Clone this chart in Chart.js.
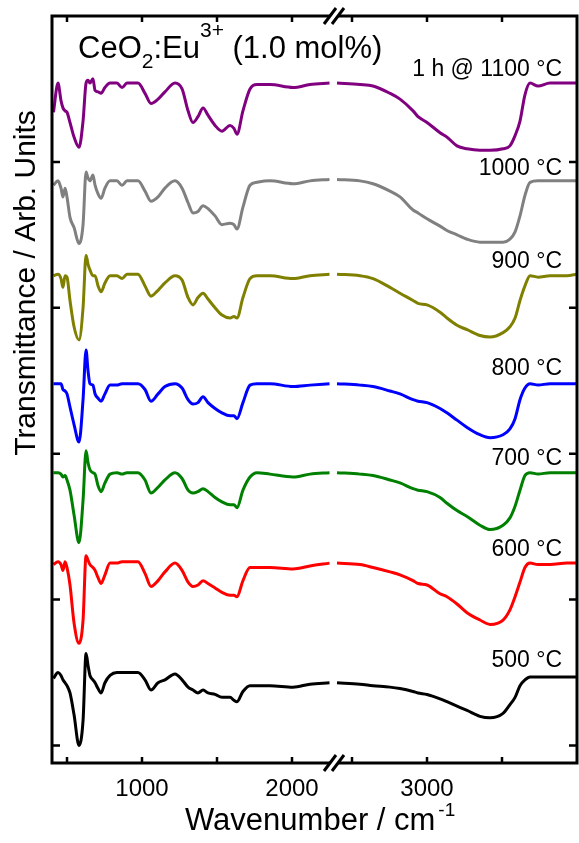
<!DOCTYPE html>
<html lang="en">
<head>
<meta charset="UTF-8">
<title>CeO2:Eu3+ FTIR</title>
<script src="https://cdn.jsdelivr.net/npm/chart.js"></script>
<style>
    html, body { margin: 0; padding: 0; background: #fff; }
    #chart { display: block; }
</style>
</head>
<body>
<canvas id="chart" width="579" height="843"></canvas>
<script>
// wavenumbers (cm-1) on each side of the axis break
const wnLow = [410, 440, 460, 473, 487, 500, 520, 547, 580, 607, 627, 640, 653, 673, 687, 707, 727, 753, 787, 833,
    867, 900, 973, 1020, 1060, 1107, 1153, 1220, 1267, 1307, 1340, 1373, 1407, 1440, 1487, 1533, 1587, 1613, 1633,
    1673, 1720, 1767, 1853, 2007, 2120, 2250];
const wnHigh = [2400, 2553, 2640, 2753, 2820, 2907, 2940, 3000, 3087, 3133, 3200, 3267, 3353, 3420, 3507, 3553,
    3587, 3620, 3653, 3687, 3740, 3820, 3933, 4000];
const BREAK_SHIFT = 100;   // the cut region is 100 cm-1 wide
const xTickWn = [500, 1000, 1500, 2000, 2500, 3000, 3500];
const xLabelWn = [1000, 2000, 3000];
const yTicks = [0, 1, 2, 3, 4];

const labels = ["500 °C", "600 °C", "700 °C", "800 °C", "900 °C", "1000 °C", "1 h @ 1100 °C"];
const colors = ["#000000", "#ff0000", "#008000", "#0000ff", "#808000", "#808080", "#800080"];

// transmittance, arb. units (curves are stacked)
const t500Low = [0.46, 0.50, 0.48, 0.45, 0.43, 0.41, 0.36, 0.21, 0.00, 0.17, 0.63, 0.55, 0.48, 0.45, 0.43, 0.39, 0.36,
    0.43, 0.48, 0.50, 0.50, 0.50, 0.50, 0.45, 0.38, 0.43, 0.45, 0.49, 0.45, 0.40, 0.38, 0.36, 0.38, 0.36, 0.35, 0.33,
    0.33, 0.31, 0.30, 0.37, 0.41, 0.41, 0.41, 0.40, 0.42, 0.43];
const t500High = [0.43, 0.42, 0.41, 0.40, 0.39, 0.37, 0.36, 0.35, 0.32, 0.30, 0.27, 0.24, 0.20, 0.19, 0.22, 0.28, 0.33,
    0.41, 0.45, 0.47, 0.47, 0.47, 0.47, 0.47];
const t600Low = [1.24, 1.26, 1.24, 1.20, 1.26, 1.22, 1.10, 0.84, 0.70, 0.86, 1.30, 1.27, 1.24, 1.22, 1.20, 1.15, 1.11,
    1.17, 1.25, 1.25, 1.26, 1.26, 1.26, 1.18, 1.09, 1.13, 1.19, 1.25, 1.20, 1.12, 1.09, 1.10, 1.13, 1.11, 1.08, 1.05,
    1.03, 1.03, 1.02, 1.13, 1.22, 1.22, 1.22, 1.21, 1.23, 1.25];
const t600High = [1.25, 1.24, 1.22, 1.19, 1.17, 1.13, 1.11, 1.10, 1.04, 1.02, 0.97, 0.91, 0.86, 0.83, 0.86, 0.93, 1.02,
    1.12, 1.22, 1.25, 1.24, 1.24, 1.25, 1.25];
const t700Low = [1.87, 1.87, 1.86, 1.84, 1.85, 1.82, 1.75, 1.58, 1.39, 1.68, 2.02, 1.94, 1.89, 1.87, 1.86, 1.78, 1.74,
    1.80, 1.86, 1.87, 1.86, 1.87, 1.87, 1.82, 1.73, 1.77, 1.82, 1.87, 1.83, 1.75, 1.73, 1.74, 1.76, 1.74, 1.70, 1.67,
    1.65, 1.65, 1.63, 1.75, 1.84, 1.87, 1.86, 1.84, 1.86, 1.87];
const t700High = [1.87, 1.86, 1.85, 1.82, 1.80, 1.76, 1.75, 1.74, 1.70, 1.66, 1.61, 1.57, 1.51, 1.48, 1.51, 1.56, 1.64,
    1.75, 1.85, 1.87, 1.86, 1.87, 1.87, 1.87];
const t800Low = [2.48, 2.48, 2.48, 2.44, 2.43, 2.41, 2.32, 2.20, 2.08, 2.37, 2.71, 2.57, 2.48, 2.47, 2.41, 2.38, 2.36,
    2.41, 2.47, 2.47, 2.48, 2.48, 2.48, 2.44, 2.36, 2.41, 2.46, 2.48, 2.45, 2.37, 2.34, 2.35, 2.39, 2.35, 2.31, 2.28,
    2.26, 2.26, 2.24, 2.35, 2.47, 2.48, 2.48, 2.46, 2.47, 2.48];
const t800High = [2.48, 2.47, 2.46, 2.43, 2.41, 2.37, 2.36, 2.35, 2.31, 2.28, 2.23, 2.18, 2.13, 2.11, 2.13, 2.17, 2.24,
    2.37, 2.45, 2.48, 2.47, 2.48, 2.48, 2.48];
const t900Low = [3.22, 3.23, 3.20, 3.14, 3.22, 3.21, 3.05, 2.87, 2.78, 3.00, 3.36, 3.30, 3.26, 3.22, 3.22, 3.15, 3.11,
    3.17, 3.22, 3.22, 3.20, 3.23, 3.23, 3.15, 3.08, 3.12, 3.17, 3.22, 3.19, 3.07, 3.02, 3.07, 3.10, 3.06, 3.00, 2.95,
    2.93, 2.94, 2.93, 3.07, 3.20, 3.22, 3.22, 3.20, 3.22, 3.23];
const t900High = [3.23, 3.22, 3.20, 3.14, 3.10, 3.05, 3.03, 3.02, 2.97, 2.93, 2.88, 2.85, 2.81, 2.80, 2.83, 2.87, 2.93,
    3.05, 3.15, 3.22, 3.21, 3.22, 3.22, 3.23];
const t1000Low = [3.84, 3.87, 3.82, 3.76, 3.82, 3.76, 3.62, 3.55, 3.44, 3.57, 3.93, 3.89, 3.87, 3.91, 3.84, 3.78, 3.75,
    3.82, 3.87, 3.87, 3.84, 3.87, 3.87, 3.80, 3.73, 3.76, 3.82, 3.87, 3.82, 3.72, 3.65, 3.66, 3.70, 3.68, 3.63, 3.57,
    3.58, 3.57, 3.54, 3.69, 3.84, 3.86, 3.87, 3.85, 3.87, 3.88];
const t1000High = [3.88, 3.87, 3.85, 3.80, 3.76, 3.67, 3.65, 3.61, 3.56, 3.53, 3.50, 3.47, 3.45, 3.45, 3.45, 3.47, 3.52,
    3.63, 3.77, 3.86, 3.87, 3.87, 3.87, 3.87];
const t1100Low = [4.34, 4.54, 4.42, 4.37, 4.35, 4.34, 4.27, 4.17, 4.10, 4.28, 4.54, 4.56, 4.54, 4.57, 4.49, 4.48, 4.47,
    4.51, 4.54, 4.54, 4.51, 4.54, 4.54, 4.47, 4.40, 4.43, 4.48, 4.54, 4.50, 4.35, 4.27, 4.31, 4.37, 4.32, 4.25, 4.21,
    4.25, 4.23, 4.19, 4.35, 4.50, 4.53, 4.53, 4.51, 4.53, 4.54];
const t1100High = [4.54, 4.53, 4.52, 4.47, 4.43, 4.35, 4.31, 4.27, 4.20, 4.17, 4.11, 4.09, 4.08, 4.08, 4.09, 4.11, 4.18,
    4.28, 4.46, 4.54, 4.52, 4.54, 4.54, 4.54];

const lowSeries = [t500Low, t600Low, t700Low, t800Low, t900Low, t1000Low, t1100Low];
const highSeries = [t500High, t600High, t700High, t800High, t900High, t1000High, t1100High];

// baseline of each curve label, in the same arb. units
const labelY = [0.54, 1.30, 1.92, 2.54, 3.27, 3.91, 4.59];

const FONT = "'Liberation Sans', Arial, sans-serif";

// high side is drawn BREAK_SHIFT to the left so the gap is small
const toAxis = wn => (wn > 2300 ? wn - BREAK_SHIFT : wn);
const toWn = v => (v > 2290 ? v + BREAK_SHIFT : v);
const breakAt = 2280;

const datasets = lowSeries.map(function (low, i) {
    const pts = wnLow.map((w, j) => ({ x: w, y: low[j] }));
    pts.push({ x: 2275, y: null });
    wnHigh.forEach((w, j) => pts.push({ x: toAxis(w), y: highSeries[i][j] }));
    return {
        label: labels[i],
        data: pts,
        borderColor: colors[i],
        borderWidth: 3,
        pointRadius: 0,
        fill: false,
        spanGaps: false,
        cubicInterpolationMode: "monotone"
    };
});

function drawSlash(ctx, cx, y) {
    // axis break: white gap with two slanted strokes
    ctx.save();
    ctx.fillStyle = "#fff";
    ctx.beginPath();
    ctx.moveTo(cx - 10, y + 8);
    ctx.lineTo(cx + 2, y - 8);
    ctx.lineTo(cx + 10, y - 8);
    ctx.lineTo(cx - 2, y + 8);
    ctx.closePath();
    ctx.fill();
    ctx.strokeStyle = "#000";
    ctx.lineWidth = 3;
    [-4, 4].forEach(function (d) {
        ctx.beginPath();
        ctx.moveTo(cx + d - 6, y + 8);
        ctx.lineTo(cx + d + 6, y - 8);
        ctx.stroke();
    });
    ctx.restore();
}

const framePlugin = {
    id: "frame",
    afterDraw(chart) {
        const ctx = chart.ctx;
        const a = chart.chartArea;
        const xs = chart.scales.x, ys = chart.scales.y;
        ctx.save();
        ctx.strokeStyle = "#000";
        ctx.lineWidth = 3;
        ctx.strokeRect(a.left, a.top, a.right - a.left, a.bottom - a.top);

        // inward ticks on all four sides
        ctx.lineWidth = 2.5;
        xs.ticks.forEach(function (t) {
            const px = xs.getPixelForValue(t.value);
            ctx.beginPath();
            ctx.moveTo(px, a.bottom); ctx.lineTo(px, a.bottom - 6);
            ctx.moveTo(px, a.top); ctx.lineTo(px, a.top + 6);
            ctx.stroke();
        });
        ys.ticks.forEach(function (t) {
            const py = ys.getPixelForValue(t.value);
            ctx.beginPath();
            ctx.moveTo(a.left, py); ctx.lineTo(a.left + 8, py);
            ctx.moveTo(a.right, py); ctx.lineTo(a.right - 8, py);
            ctx.stroke();
        });

        const bx = xs.getPixelForValue(breakAt);
        drawSlash(ctx, bx, a.top);
        drawSlash(ctx, bx, a.bottom);

        ctx.fillStyle = "#000";
        // axis titles
        ctx.font = "30px " + FONT;
        ctx.save();
        ctx.translate(35, 283);
        ctx.rotate(-Math.PI / 2);
        ctx.textAlign = "center";
        ctx.textBaseline = "alphabetic";
        ctx.fillText("Transmittance / Arb. Units", 0, 0);
        ctx.restore();

        ctx.textAlign = "left";
        ctx.textBaseline = "alphabetic";
        ctx.font = "31px " + FONT;
        ctx.fillText("Wavenumber / cm", 185, 830);
        const w0 = ctx.measureText("Wavenumber / cm").width;
        ctx.font = "19px " + FONT;
        ctx.fillText("-1", 185 + w0 + 3, 816);

        // sample label with sub/superscript
        let x = 78;
        const parts = [["CeO", 31, 58], ["2", 21, 68], [":Eu", 31, 58], ["3+", 21, 37], [" (1.0 mol%)", 31, 58]];
        parts.forEach(function (p) {
            ctx.font = p[1] + "px " + FONT;
            ctx.fillText(p[0], x, p[2]);
            x += ctx.measureText(p[0]).width;
        });

        // curve labels
        ctx.font = "23px " + FONT;
        ctx.textAlign = "right";
        labels.forEach(function (l, i) {
            ctx.fillText(l, 562, ys.getPixelForValue(labelY[i]));
        });
        ctx.restore();
    }
};

new Chart(document.getElementById("chart"), {
    type: "line",
    data: { datasets: datasets },
    options: {
        responsive: false,
        animation: false,
        layout: { padding: { top: 16, right: 2, left: 0, bottom: 0 } },
        plugins: { legend: { display: false }, tooltip: { enabled: false } },
        scales: {
            x: {
                type: "linear",
                min: 400,
                max: 3900,
                afterBuildTicks: function (s) { s.ticks = xTickWn.map(w => ({ value: toAxis(w) })); },
                afterFit: function (s) { s.height = 80; },
                grid: { display: false, drawTicks: false },
                border: { display: false },
                ticks: {
                    autoSkip: false,
                    maxRotation: 0,
                    padding: 12,
                    color: "#000",
                    font: { size: 24, family: FONT },
                    callback: function (v) {
                        const wn = Math.round(toWn(v));
                        return xLabelWn.includes(wn) ? String(wn) : "";
                    }
                }
            },
            y: {
                min: -0.12,
                max: 5,
                afterBuildTicks: function (s) { s.ticks = yTicks.map(v => ({ value: v })); },
                afterFit: function (s) { s.width = 52; },
                grid: { display: false, drawTicks: false },
                border: { display: false },
                ticks: { display: false }
            }
        }
    },
    plugins: [framePlugin]
});
</script>
</body>
</html>
